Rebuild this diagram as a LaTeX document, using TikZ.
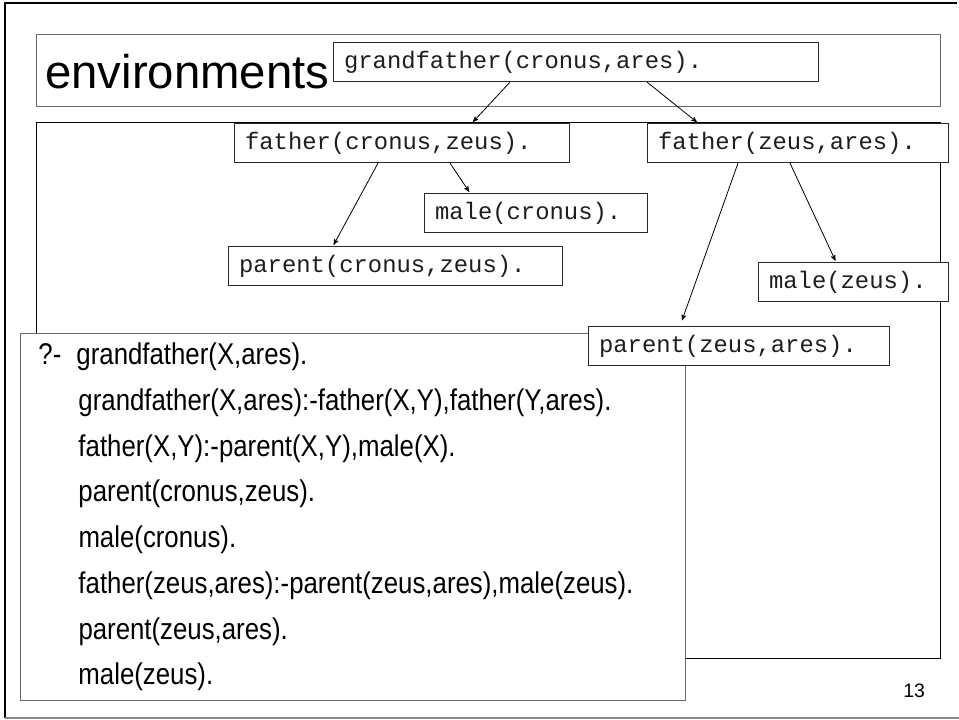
\documentclass[tikz,border=0pt]{standalone}
\usepackage{fontspec}
\setmainfont{Liberation Sans}
\newfontfamily\codefont{Liberation Mono}
\newfontfamily\queryfont[FakeStretch=0.86]{Liberation Sans}
\usepackage{tikz}
\usetikzlibrary{arrows}
\usetikzlibrary{positioning}

\begin{document}
\begin{tikzpicture}[x=0.75pt,y=-0.75pt,
	fact/.style={draw=boxline,line width=0.6pt,fill=white,anchor=north west,
		inner xsep=8pt,text width=#1,align=left,minimum height=29.5pt,
		text=codetext,font=\codefont\fontsize{17.9}{20}\selectfont}]
	
	\definecolor{boxline}{RGB}{40,40,40}
	\definecolor{codetext}{RGB}{30,30,30}
	\definecolor{titleline}{RGB}{105,105,105}
	\definecolor{pagegray}{RGB}{135,135,135}
	
	\useasboundingbox (0,0) rectangle (959,720);
	
	% slide frame
	\draw[line width=2.2pt] (5,718) -- (5,3) -- (957,3);
	\draw[pagegray,line width=1.2pt] (5,718) -- (959,718);
	
	% title
	\node[draw=titleline,line width=0.75pt,anchor=north west,inner sep=0,
		minimum width=678pt,minimum height=54pt] (tbox) at (36,34) {};
	\node[anchor=base west,inner sep=0,font=\fontsize{35.5}{40}\selectfont] (title) at (45,89) {environments};
	
	% environment frame
	\node[draw=black,line width=1.1pt,anchor=north west,inner sep=0,
		minimum width=678pt,minimum height=402pt] (envbox) at (36,122) {};
	
	% query
	\node[draw=titleline,line width=0.75pt,fill=white,anchor=north west,
		inner xsep=13.5pt,text width=471.75pt,minimum height=275.25pt,align=left,
		font=\queryfont\fontsize{22.5}{34.3}\selectfont] (query) at (20,333)
	{\makebox[28.5pt][l]{?-}grandfather(X,ares).\\
		\hspace*{30pt}grandfather(X,ares):-father(X,Y),father(Y,ares).\\
		\hspace*{30pt}father(X,Y):-parent(X,Y),male(X).\\
		\hspace*{30pt}parent(cronus,zeus).\\
		\hspace*{30pt}male(cronus).\\
		\hspace*{30pt}father(zeus,ares):-parent(zeus,ares),male(zeus).\\
		\hspace*{30pt}parent(zeus,ares).\\
		\hspace*{30pt}male(zeus).};
	
	% goals
	\node[fact=347.75pt] (gca) at (333,42) {grandfather(cronus,ares).};
	\node[fact=235.25pt] (fcz) at (234,123) {father(cronus,zeus).};
	\node[fact=209.75pt] (fza) at (647,123) {father(zeus,ares).};
	\node[fact=151.25pt] (mc) at (424,193) {male(cronus).};
	\node[fact=234.5pt] (pcz) at (228,246) {parent(cronus,zeus).};
	\node[fact=126.5pt] (mz) at (758,262) {male(zeus).};
	\node[fact=209.75pt] (pza) at (588,326) {parent(zeus,ares).};
	
	\node[anchor=base west,inner sep=0,font=\fontsize{14.6}{16}\selectfont] (pagenum) at (903,697) {13};
	
	\path[->,>=stealth',shorten >=1pt,line width=0.6pt]
	(gca.south -| 510,0) edge (fcz.north -| 472,0)
	(gca.south -| 647,0) edge (fza.north -| 698,0)
	(fcz.south -| 378,0) edge (pcz.north -| 333,0)
	(fcz.south -| 450,0) edge (mc.north -| 470,0)
	(fza.south -| 738,0) edge[shorten >=4.5pt] (pza.north -| 680,0)
	(fza.south -| 790,0) edge (mz.north -| 836,0);
\end{tikzpicture}
\end{document}
